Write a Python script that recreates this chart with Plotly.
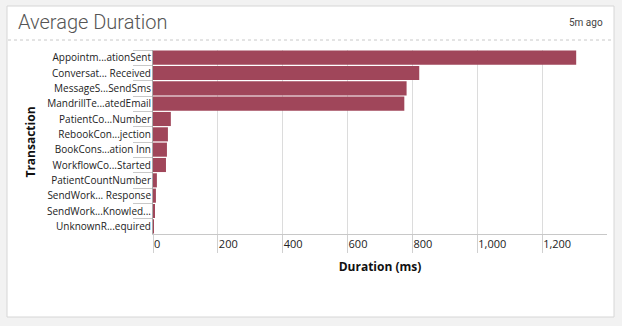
import plotly.graph_objects as go

categories = [
    "Appointm...ationSent",
    "Conversat... Received",
    "MessageS...SendSms",
    "MandrillTe...atedEmail",
    "PatientCo...Number",
    "RebookCon...jection",
    "BookCons...ation Inn",
    "WorkflowCo...Started",
    "PatientCountNumber",
    "SendWork... Response",
    "SendWork...Knowled...",
    "UnknownR...equired",
]
durations = [1305, 821, 782, 775, 55, 46, 43, 40, 12, 9, 6, 3]
x_ticks = [0, 200, 400, 600, 800, 1000, 1200]

W, H = 622, 326
def px(x): return x / W
def py(y): return 1 - y / H

fig = go.Figure()
fig.add_trace(go.Bar(
    y=categories, x=durations, orientation="h",
    marker=dict(color="#a0465a", line=dict(width=0)),
    hoverinfo="x+y",
))

fig.update_layout(
    width=W, height=H,
    margin=dict(l=0, r=0, t=0, b=0),
    paper_bgcolor="#f2f2f2",
    plot_bgcolor="rgba(0,0,0,0)",
    bargap=0.08,
    showlegend=False,
    font=dict(family="Open Sans, DejaVu Sans, sans-serif", size=10, color="#222"),
    xaxis=dict(
        domain=[px(153), px(607)],
        range=[0, 1400],
        tickvals=x_ticks,
        tickformat=",",
        ticks="outside", ticklen=18, tickcolor="#d0d0d0", tickwidth=1,
        ticklabelposition="outside right",
        showgrid=True, gridcolor="#dcdcdc", gridwidth=1,
        showline=True, linecolor="#c8c8c8",
        zeroline=False,
        tickfont=dict(size=11, color="#222"),
        title=dict(text="<b>Duration (ms)</b>", font=dict(size=12, color="#111"), standoff=12),
        automargin=False,
    ),
    yaxis=dict(
        domain=[py(234), py(50)],
        autorange="reversed",
        type="category",
        tickson="boundaries",
        ticks="outside", ticklen=19, tickcolor="#c8c8c8", tickwidth=1,
        ticklabelstandoff=-1,
        showline=True, linecolor="#a8a8a8",
        showgrid=False,
        tickfont=dict(size=10, color="#222"),
        title=dict(text="<b>Transaction</b>", font=dict(size=12, color="#111"), standoff=8),
        automargin=False,
    ),
    shapes=[
        dict(type="rect", xref="paper", yref="paper", x0=px(7), x1=px(614), y0=py(317), y1=py(6),
             fillcolor="white", line=dict(color="#d6d6d6", width=1), layer="below"),
        dict(type="line", xref="paper", yref="paper", x0=px(8), x1=px(613), y0=py(40), y1=py(40),
             line=dict(color="#c8c8c8", width=1, dash="dot")),
    ],
    annotations=[
        dict(text="Average Duration", xref="paper", yref="paper", x=px(16), y=py(22),
             xanchor="left", yanchor="middle", showarrow=False,
             font=dict(family="Roboto, sans-serif", size=20, color="#555", weight=300)),
        dict(text="5m ago", xref="paper", yref="paper", x=px(605), y=py(22),
             xanchor="right", yanchor="middle", showarrow=False,
             font=dict(family="Roboto, sans-serif", size=10, color="#444")),
    ],
)

fig.write_html("out.html")
